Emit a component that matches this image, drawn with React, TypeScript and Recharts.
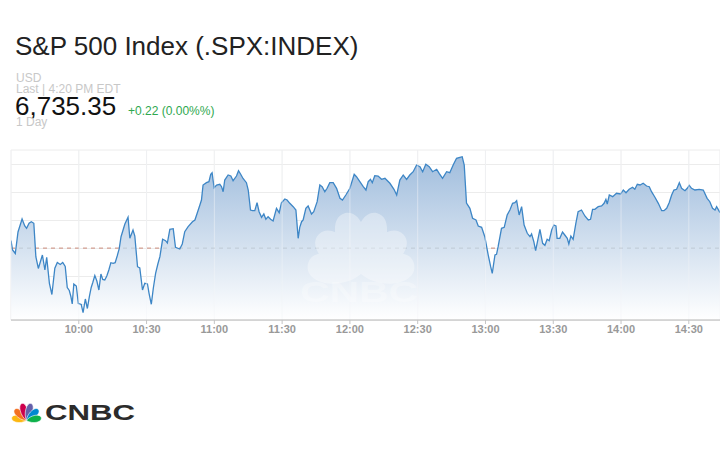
import React from "react";
import { AreaChart, Area, XAxis, YAxis, CartesianGrid, ReferenceLine } from "recharts";

// minutes after 9:30 ET
const minutes = [
  0, 0.7, 1.9, 3.1, 4.9, 6.1, 6.9, 8.0, 9.0, 10.1,
  11.0, 12.1, 13.9, 15.0, 15.8, 17.0, 18.1, 19.4, 20.5, 21.8,
  22.9, 24.0, 24.9, 25.8, 26.5, 27.1, 27.8, 28.9, 29.8, 31.1,
  31.9, 32.9, 33.8, 34.7, 35.5, 36.2, 37.1, 38.0, 38.9, 39.8,
  40.6, 41.5, 42.4, 43.3, 44.2, 45.2, 46.1, 47.0, 47.9, 48.7,
  49.6, 50.4, 51.8, 52.6, 54.0, 54.8, 56.0, 57.0, 58.2, 59.2,
  60.4, 61.1, 62.1, 63.0, 64.0, 65.0, 65.9, 67.1, 68.4, 69.2,
  70.3, 71.8, 72.8, 74.7, 75.8, 76.9, 78.4, 80.3, 81.4, 82.4,
  83.6, 84.3, 85.0, 86.5, 87.6, 88.4, 89.0, 89.9, 91.0, 92.4,
  93.2, 93.9, 94.6, 96.1, 97.3, 98.3, 99.8, 100.7, 101.6, 102.7,
  104.2, 105.0, 106.0, 106.9, 107.9, 108.9, 109.8, 110.9, 111.9, 112.8,
  113.8, 114.9, 116.0, 117.5, 118.7, 119.7, 121.2, 122.2, 123.4, 124.9,
  126.1, 127.1, 127.8, 128.6, 129.3, 130.5, 131.5, 133.0, 134.0, 135.5,
  136.7, 137.7, 138.9, 139.9, 141.1, 142.6, 144.1, 145.6, 146.7, 148.2,
  150.0, 151.9, 152.9, 154.4, 155.9, 157.1, 158.1, 159.1, 159.9, 161.0,
  162.5, 164.0, 165.5, 167.7, 169.5, 170.7, 172.1, 173.6, 175.1, 176.5,
  178.0, 179.5, 181.0, 182.2, 183.6, 185.1, 186.6, 188.4, 189.5, 191.0,
  192.8, 194.2, 195.7, 197.2, 198.7, 199.7, 200.6, 201.6, 203.1, 204.3,
  205.8, 206.8, 208.3, 209.7, 211.2, 212.3, 213.0, 214.2, 214.9, 215.6,
  217.1, 218.3, 219.6, 220.8, 222.0, 223.0, 223.8, 224.9, 226.0, 227.1,
  228.5, 229.7, 230.4, 231.4, 232.2, 233.3, 234.1, 235.3, 236.3, 237.3,
  238.2, 239.3, 240.3, 241.2, 241.7, 242.9, 244.1, 245.1, 246.2, 246.9,
  247.8, 248.8, 250.0, 251.0, 252.5, 254.0, 255.5, 256.5, 257.4, 258.4,
  259.9, 261.4, 262.5, 263.3, 263.9, 264.8, 266.3, 268.0, 269.8, 271.0,
  272.2, 273.6, 275.1, 276.1, 277.2, 278.4, 279.8, 281.3, 282.5, 283.5,
  285.0, 286.5, 288.0, 289.0, 290.2, 291.3, 292.4, 293.4, 294.6, 295.8,
  296.8, 298.3, 299.3, 300.2, 301.2, 302.7, 304.6, 306.4, 308.1, 309.3,
  310.5, 311.6, 312.3, 313.8,
];

const prices = [
  6737.86, 6734.46, 6733.21, 6740.89, 6745.54, 6743.04, 6742.21, 6744.0, 6744.57, 6744.0,
  6732.07, 6727.86, 6732.68, 6727.32, 6731.86, 6722.57, 6718.57, 6727.93, 6730.0, 6729.29,
  6730.0, 6728.57, 6721.07, 6720.0, 6717.86, 6715.18, 6722.32, 6721.61, 6715.36, 6715.0,
  6712.07, 6716.96, 6713.57, 6717.86, 6721.07, 6722.86, 6725.36, 6723.39, 6720.18, 6725.89,
  6723.93, 6723.75, 6725.18, 6727.32, 6729.93, 6729.71, 6729.93, 6732.32, 6734.93, 6739.21,
  6741.61, 6743.75, 6746.14, 6738.64, 6741.61, 6739.46, 6728.5, 6728.04, 6720.18, 6722.57,
  6722.32, 6719.0, 6715.07, 6720.89, 6726.14, 6729.46, 6732.07, 6738.29, 6737.79, 6736.96,
  6741.86, 6742.07, 6735.43, 6734.82, 6736.61, 6741.0, 6742.79, 6744.57, 6745.18, 6747.57,
  6750.54, 6752.32, 6757.68, 6758.5, 6758.86, 6761.5, 6762.07, 6756.71, 6757.68, 6757.93,
  6757.07, 6755.29, 6759.46, 6761.25, 6760.89, 6759.21, 6760.89, 6762.79, 6761.61, 6760.0,
  6758.5, 6755.89, 6748.75, 6748.5, 6748.5, 6751.36, 6748.14, 6746.14, 6747.32, 6745.43,
  6746.36, 6745.43, 6744.82, 6749.36, 6747.79, 6751.36, 6752.68, 6752.32, 6751.14, 6749.93,
  6748.75, 6738.64, 6742.57, 6744.57, 6745.18, 6749.36, 6750.18, 6747.32, 6748.14, 6751.71,
  6757.68, 6757.07, 6755.29, 6756.5, 6758.5, 6758.5, 6756.5, 6752.93, 6752.32, 6754.11,
  6756.5, 6761.5, 6760.64, 6758.86, 6757.07, 6755.89, 6758.86, 6759.71, 6758.5, 6761.0,
  6760.89, 6759.71, 6760.07, 6758.29, 6756.14, 6754.11, 6759.46, 6761.25, 6759.71, 6761.25,
  6762.43, 6764.82, 6764.21, 6762.43, 6765.07, 6764.21, 6762.43, 6763.29, 6761.86, 6760.07,
  6762.43, 6762.07, 6764.82, 6767.21, 6767.57, 6767.79, 6764.82, 6751.25, 6749.36, 6745.79,
  6745.18, 6743.04, 6742.57, 6739.21, 6732.68, 6728.5, 6726.14, 6732.68, 6732.93, 6735.64,
  6742.21, 6742.57, 6746.96, 6748.75, 6751.14, 6751.36, 6752.07, 6746.96, 6749.93, 6743.39,
  6740.43, 6739.21, 6740.18, 6737.43, 6734.21, 6738.64, 6741.86, 6736.86, 6736.14, 6738.29,
  6737.79, 6741.61, 6743.39, 6743.04, 6738.64, 6738.64, 6740.89, 6739.82, 6738.64, 6736.61,
  6739.46, 6738.29, 6744.0, 6748.14, 6748.75, 6746.61, 6745.18, 6745.43, 6749.0, 6749.0,
  6749.93, 6750.18, 6751.14, 6752.57, 6750.89, 6754.11, 6753.5, 6754.71, 6754.46, 6755.89,
  6754.93, 6756.14, 6756.86, 6756.14, 6757.93, 6757.68, 6758.29, 6757.32, 6757.07, 6755.29,
  6753.29, 6751.14, 6748.5, 6748.5, 6749.36, 6751.36, 6754.11, 6755.89, 6756.14, 6758.5,
  6756.5, 6755.64, 6756.5, 6757.57, 6756.5, 6755.89, 6756.14, 6755.89, 6752.93, 6751.71,
  6749.36, 6748.75, 6749.93, 6747.79,
];

const prevClose = 6735.13;
const tickMinutes = [30, 60, 90, 120, 150, 180, 210, 240, 270, 300];
const tickLabels = ["10:00", "10:30", "11:00", "11:30", "12:00", "12:30", "13:00", "13:30", "14:00", "14:30"];
const priceTicks = [6715, 6725, 6735, 6745, 6755, 6765];

const data = minutes.map((t, i) => ({ t, price: prices[i] }));

const FONT = "'Liberation Sans', Arial, Helvetica, sans-serif";

const feathers = [
  { angle: -80, len: 54, color: "#fcb711" },
  { angle: -47, len: 58, color: "#f37021" },
  { angle: -15, len: 63, color: "#cc004c" },
  { angle: 15, len: 63, color: "#6460aa" },
  { angle: 47, len: 58, color: "#0089d0" },
  { angle: 80, len: 54, color: "#0db14b" },
];

function Peacock({ x, y, width, height, fill, w = 15 }: { x: number; y: number; width: number; height: number; fill?: string; w?: number }) {
  return (
    <svg x={x} y={y} width={width} height={height} viewBox="0 0 118 68" overflow="visible">
      {feathers.map((f) => (
        <path
          key={f.angle}
          transform={`translate(59 66) rotate(${f.angle})`}
          d={`M0 0 C${-w} ${-f.len * 0.3} ${-w} ${-f.len} 0 ${-f.len} C${w} ${-f.len} ${w} ${-f.len * 0.3} 0 0Z`}
          fill={fill || f.color}
          stroke="#fff"
          strokeWidth={fill ? 0 : 2}
        />
      ))}
    </svg>
  );
}

export default function App() {
  return (
    <div style={{ position: "absolute", left: 0, top: 0, width: 720, height: 450, overflow: "hidden", background: "#fff", fontFamily: FONT }}>
      <div style={{ position: "absolute", left: 0, top: 140 }}>
        <AreaChart width={720} height={200} data={data} margin={{ top: 10, right: 0, left: 11, bottom: 0 }}>
          <defs>
            <linearGradient id="spxFill" x1="0" y1="0" x2="0" y2="1">
              <stop offset="0%" stopColor="#a0bddd" stopOpacity={1} />
              <stop offset="100%" stopColor="#ffffff" stopOpacity={1} />
            </linearGradient>
          </defs>
          <CartesianGrid stroke="#ececec" strokeWidth={1} />
          <XAxis
            dataKey="t"
            type="number"
            domain={[0, 313.8]}
            ticks={tickMinutes}
            tickFormatter={(v: number) => tickLabels[tickMinutes.indexOf(v)]}
            height={20}
            tickSize={4}
            tickMargin={1}
            axisLine={{ stroke: "#b4b4b4" }}
            tickLine={{ stroke: "#c4c4c4" }}
            tick={{ fill: "#999", fontSize: 11, fontWeight: "bold", fontFamily: FONT }}
            allowDataOverflow
          />
          <YAxis hide type="number" domain={[6709.46, 6770.18]} ticks={priceTicks} allowDataOverflow />
          <ReferenceLine y={prevClose} stroke="#e99a84" strokeDasharray="4 4" strokeWidth={1} zIndex={90} />
          <Area
            type="linear"
            dataKey="price"
            stroke="#3d86c6"
            strokeWidth={1.3}
            fill="url(#spxFill)"
            fillOpacity={1}
            isAnimationActive={false}
            dot={false}
            activeDot={false}
            zIndex={100}
          />
          <CartesianGrid horizontal={false} stroke="#f4f6f9" strokeOpacity={0.5} zIndex={105} />
          <ReferenceLine y={prevClose} stroke="#8a8f96" strokeOpacity={0.3} strokeDasharray="4 4" strokeWidth={1} zIndex={110} />
        </AreaChart>
      </div>
      <svg width={720} height={450} style={{ position: "absolute", left: 0, top: 0, pointerEvents: "none" }} fontFamily={FONT}>
        <text x={15} y={55} fontSize={26} fill="#222">S&amp;P 500 Index (.SPX:INDEX)</text>
        <text x={16} y={81.5} fontSize={12} fill="#c8c8c8">USD</text>
        <text x={16} y={92.5} fontSize={12} fill="#c8c8c8">Last | 4:20 PM EDT</text>
        <text x={15} y={115} fontSize={26} fill="#111">6,735.35</text>
        <text x={128} y={114.5} fontSize={12} fill="#2fa84f">+0.22 (0.00%%)</text>
        <text x={16} y={126} fontSize={12} fill="#c8c8c8">1 Day</text>

        <g opacity={0.35}>
          <Peacock x={302} y={208} width={118} height={68} fill="#ffffff" w={20} />
        </g>
        <text x={300} y={302} fontSize={30} fontWeight="bold" fill="#ffffff" fillOpacity={0.28} textLength={118} lengthAdjust="spacingAndGlyphs">CNBC</text>

        <Peacock x={10} y={402} width={33} height={19} w={17} />
        <text x={45} y={420} fontSize={22} fontWeight={900} fill="#2b2b2b" textLength={90} lengthAdjust="spacingAndGlyphs">CNBC</text>
      </svg>
    </div>
  );
}
